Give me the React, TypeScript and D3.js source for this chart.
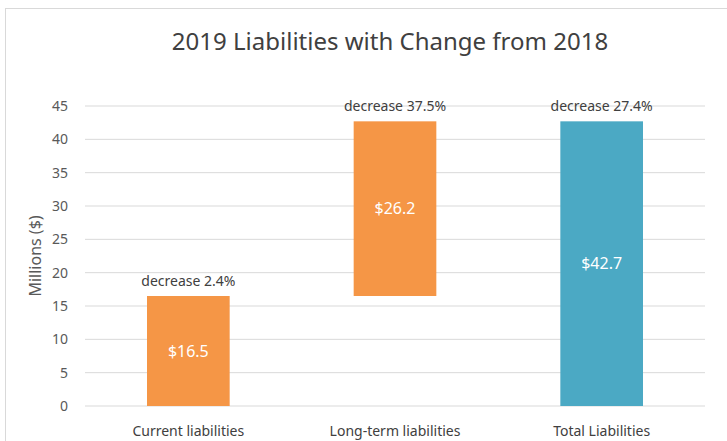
import React from "react";
import * as d3 from "d3";

const categories = ["Current liabilities", "Long-term liabilities", "Total Liabilities"];
const barStarts = [0, 16.5, 0];
const barValues = [16.5, 26.2, 42.7];
const valueLabels = ["$16.5", "$26.2", "$42.7"];
const changeLabels = ["decrease 2.4%", "decrease 37.5%", "decrease 27.4%"];
const barColors = ["#F59646", "#F59646", "#4BA9C4"];
const yTicks = [0, 5, 10, 15, 20, 25, 30, 35, 40, 45];

const W = 727;
const H = 441;
const margin = { left: 85, right: 22, top: 106, bottom: 35 };
const font = "'Noto Sans', 'Open Sans', sans-serif";

export default function App() {
  const x = d3
    .scaleBand<string>()
    .domain(categories)
    .range([margin.left, W - margin.right])
    .paddingInner(0.6)
    .paddingOuter(0.3);
  const y = d3.scaleLinear().domain([0, 45]).range([H - margin.bottom, margin.top]);

  return (
    <svg
      width={W}
      height={H}
      style={{ position: "absolute", left: 0, top: 0, background: "#fff" }}
      fontFamily={font}
    >
      <rect x={5.5} y={8.5} width={W} height={H} fill="#fff" stroke="#d9d9d9" />
      <text x={390} y={50} textAnchor="middle" fontSize={24} fill="#404040">
        2019 Liabilities with Change from 2018
      </text>
      {yTicks.map((t) => (
        <g key={t}>
          <line x1={margin.left} x2={W - margin.right} y1={y(t)} y2={y(t)} stroke="#d9d9d9" strokeWidth={1} />
          <text x={68} y={y(t)} dy="0.35em" textAnchor="end" fontSize={14} fill="#595959">
            {t}
          </text>
        </g>
      ))}
      <text
        transform={`translate(41, ${(y(0) + y(45)) / 2}) rotate(-90)`}
        textAnchor="middle"
        fontSize={16}
        fill="#595959"
      >
        Millions ($)
      </text>
      {categories.map((c, i) => {
        const x0 = x(c)!;
        const top = y(barStarts[i] + barValues[i]);
        const bottom = y(barStarts[i]);
        const cx = x0 + x.bandwidth() / 2;
        return (
          <g key={c}>
            <rect x={x0} y={top} width={x.bandwidth()} height={bottom - top} fill={barColors[i]} />
            <text x={cx} y={(top + bottom) / 2} dy="0.35em" textAnchor="middle" fontSize={16} fill="#fff">
              {valueLabels[i]}
            </text>
            <text x={cx} y={top - 10} textAnchor="middle" fontSize={14} fill="#404040">
              {changeLabels[i]}
            </text>
            <text x={cx} y={y(0) + 30} textAnchor="middle" fontSize={14} fill="#404040">
              {c}
            </text>
          </g>
        );
      })}
    </svg>
  );
}
